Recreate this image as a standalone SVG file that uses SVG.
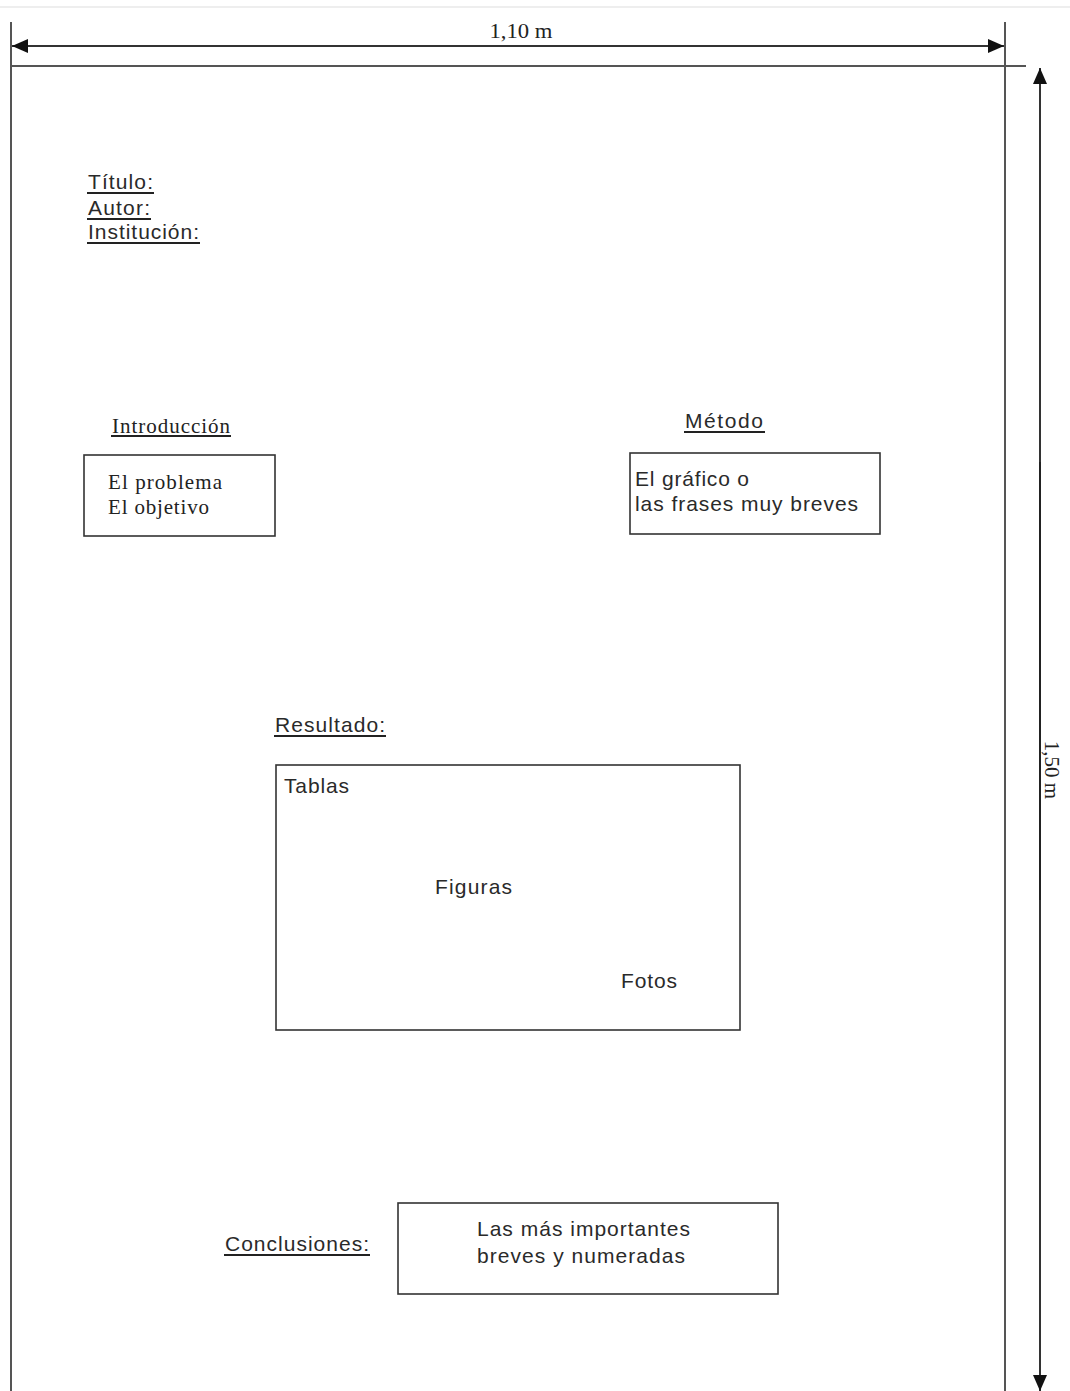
<svg xmlns="http://www.w3.org/2000/svg" width="1070" height="1391" viewBox="0 0 1070 1391">
<style>
.frame{stroke:#555;stroke-width:2;fill:none}
.dim{stroke:#333;stroke-width:2;fill:none}
.box{stroke:#333;stroke-width:1.6;fill:#fff}
.ul{stroke:#222;stroke-width:2}
.sans{font-family:"Liberation Sans",Arial,sans-serif;font-size:21px;fill:#2a2a2a}
.serif{font-family:"Liberation Serif","Times New Roman",serif;font-size:21px;fill:#222}
</style>
<defs>
<marker id="ah" markerWidth="16" markerHeight="14" refX="16" refY="7" orient="auto-start-reverse" markerUnits="userSpaceOnUse">
<path d="M0,0 L16,7 L0,14 Z" fill="#111"/>
</marker>
</defs>
<rect width="1070" height="1391" fill="#fff"/>
<line x1="0" y1="7" x2="1070" y2="7" stroke="#eee" stroke-width="2"/>
<g id="poster-frame">
<line class="frame" x1="11" y1="22" x2="11" y2="1391"/>
<line class="frame" x1="1005" y1="22" x2="1005" y2="1391"/>
<line class="frame" x1="11" y1="66" x2="1026" y2="66"/>
</g>
<g id="connectors">
<line class="dim" x1="12" y1="46" x2="1004" y2="46" marker-start="url(#ah)" marker-end="url(#ah)"/>
<line class="dim" x1="1040" y1="68" x2="1040" y2="1391" marker-start="url(#ah)" marker-end="url(#ah)" stroke-width="1.6"/>
<line x1="1040" y1="462" x2="1040" y2="900" stroke="#222" stroke-width="2"/>
</g>
<g id="dim-width">
<text class="serif" x="521" y="38" text-anchor="middle" textLength="63" lengthAdjust="spacingAndGlyphs">1,10 m</text>
</g>
<g id="dim-height">
<text class="serif" transform="translate(1045,770) rotate(90)" text-anchor="middle">1,50 m</text>
</g>
<g id="header">
<text class="sans" x="88" y="189" textLength="65">Título:</text>
<line class="ul" x1="87" y1="193" x2="154" y2="193"/>
<text class="sans" x="88" y="215" textLength="62">Autor:</text>
<line class="ul" x1="87" y1="219" x2="151" y2="219"/>
<text class="sans" x="88" y="239" textLength="111">Institución:</text>
<line class="ul" x1="87" y1="243" x2="200" y2="243"/>
</g>
<g id="introduccion">
<text class="serif" x="112" y="433" textLength="118">Introducción</text>
<line class="ul" x1="111" y1="436" x2="231" y2="436"/>
<rect class="box" x="84" y="455" width="191" height="81"/>
<text class="serif" x="108" y="489" textLength="114">El problema</text>
<text class="serif" x="108" y="514" textLength="101">El objetivo</text>
</g>
<g id="metodo">
<text class="sans" x="685" y="428" textLength="78">Método</text>
<line class="ul" x1="684" y1="432" x2="765" y2="432"/>
<rect class="box" x="630" y="453" width="250" height="81"/>
<text class="sans" x="635" y="486" textLength="114">El gráfico o</text>
<text class="sans" x="635" y="511" textLength="223">las frases muy breves</text>
</g>
<g id="resultado">
<text class="sans" x="275" y="732" textLength="110">Resultado:</text>
<line class="ul" x1="274" y1="736" x2="386" y2="736"/>
<rect class="box" x="276" y="765" width="464" height="265"/>
<text class="sans" x="284" y="793" textLength="65">Tablas</text>
<text class="sans" x="435" y="894" textLength="77">Figuras</text>
<text class="sans" x="621" y="988" textLength="56">Fotos</text>
</g>
<g id="conclusiones">
<text class="sans" x="225" y="1251" textLength="144">Conclusiones:</text>
<line class="ul" x1="224" y1="1255" x2="370" y2="1255"/>
<rect class="box" x="398" y="1203" width="380" height="91"/>
<text class="sans" x="477" y="1236" textLength="213">Las más importantes</text>
<text class="sans" x="477" y="1263" textLength="208">breves y numeradas</text>
</g>
</svg>
